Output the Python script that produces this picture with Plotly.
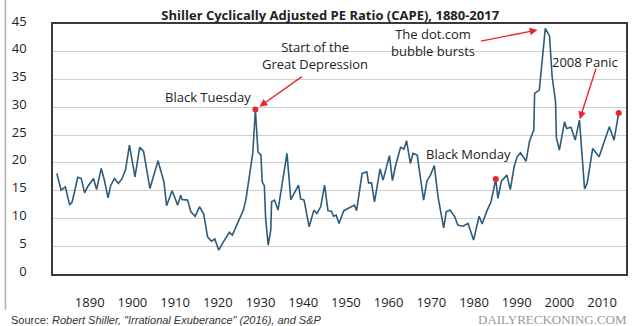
import plotly.graph_objects as go

# Shiller CAPE, traced year positions and ratio values
years = [1882.3, 1883.3, 1884.3, 1885.3, 1885.9, 1887.2, 1888.0, 1888.8, 1889.5, 1890.9,
         1891.6, 1892.7, 1893.4, 1894.3, 1894.9, 1895.8, 1896.7, 1897.6, 1898.4, 1899.3,
         1900.6, 1901.7, 1902.6, 1904.1, 1906.0, 1907.0, 1907.4, 1908.0, 1909.3, 1910.6,
         1911.3, 1911.6, 1912.9, 1913.7, 1914.7, 1915.7, 1916.7, 1917.6, 1918.5, 1919.3,
         1920.2, 1921.5, 1922.7, 1923.4, 1924.7, 1926.0, 1926.6, 1927.5, 1928.2, 1928.8,
         1929.4, 1930.1, 1930.4, 1930.9, 1931.2, 1931.8, 1932.4, 1932.6, 1933.3, 1934.1,
         1936.2, 1937.1, 1938.0, 1938.9, 1939.4, 1940.2, 1941.4, 1942.5, 1943.2, 1944.1,
         1945.0, 1945.8, 1946.6, 1947.1, 1947.7, 1948.4, 1949.5, 1950.9, 1952.0, 1952.5,
         1953.8, 1954.9, 1955.3, 1956.0, 1956.7, 1958.0, 1958.7, 1960.2, 1960.9, 1961.6,
         1962.8, 1963.6, 1964.2, 1965.1, 1965.7, 1966.7, 1968.2, 1969.0, 1969.8, 1970.7,
         1971.6, 1972.9, 1973.5, 1974.4, 1975.5, 1976.2, 1977.4, 1978.6, 1979.9, 1981.2,
         1981.9, 1983.1, 1984.0, 1985.1, 1985.6, 1986.4, 1987.7, 1988.5, 1989.4, 1990.1,
         1990.9, 1992.2, 1993.0, 1994.0, 1994.2, 1995.3, 1996.7, 1997.7, 1998.3, 1999.1,
         1999.3, 2000.0, 2001.2, 2001.7, 2002.7, 2003.7, 2004.7, 2005.9, 2006.5, 2007.8,
         2009.3, 2011.7, 2012.8, 2013.9]
cape = [18.1, 15.1, 15.7, 12.4, 13.0, 17.4, 17.2, 14.6, 15.7, 17.2,
        15.2, 19.0, 17.0, 13.7, 15.9, 17.2, 16.3, 17.2, 18.8, 23.2,
        17.5, 22.8, 22.1, 15.4, 20.4, 17.3, 16.5, 12.3, 15.0, 12.4,
        14.2, 13.4, 13.3, 11.2, 10.4, 12.1, 10.8, 6.7, 5.9, 6.3,
        4.3, 6.0, 7.5, 7.0, 9.2, 11.5, 13.5, 18.5, 21.8, 29.6,
        22.0, 21.4, 16.6, 15.9, 10.0, 5.2, 7.9, 13.0, 13.3, 11.5,
        21.7, 13.4, 14.6, 16.0, 13.5, 13.3, 8.5, 11.5, 10.9, 12.1,
        16.0, 11.4, 11.3, 10.4, 10.6, 9.1, 11.4, 12.0, 12.4, 11.4,
        18.1, 18.4, 16.4, 16.4, 13.0, 18.9, 16.9, 21.3, 16.8, 19.4,
        22.8, 22.5, 24.0, 19.9, 21.7, 21.4, 13.3, 16.8, 17.8, 19.5,
        13.8, 8.3, 11.2, 11.5, 10.3, 8.8, 8.6, 9.1, 6.1, 10.4,
        9.0, 11.5, 13.0, 17.1, 13.6, 16.7, 17.8, 15.2, 19.3, 21.1,
        21.8, 20.3, 23.9, 25.9, 32.5, 33.1, 44.2, 42.8, 35.5, 31.0,
        24.5, 22.3, 27.4, 26.2, 26.4, 24.1, 27.7, 15.3, 16.3, 22.6,
        21.1, 26.5, 24.1, 29.0]

x_ticks = [1890, 1900, 1910, 1920, 1930, 1940, 1950, 1960, 1970, 1980, 1990, 2000, 2010]
y_ticks = [0, 5, 10, 15, 20, 25, 30, 35, 40, 45]

# highlighted events: Black Tuesday peak, Black Monday, latest reading
i_tuesday = cape.index(max(cape[:60]))
i_monday = 113
i_last = len(cape) - 1
i_dotcom = cape.index(max(cape))
i_panic = 136

LINE = "#2d5b7b"
RED = "#e8262c"
TXT = "#222222"
FONT = "Open Sans"

fig = go.Figure()
fig.add_trace(go.Scatter(x=years, y=cape, mode="lines",
                         line=dict(color=LINE, width=1.6), hoverinfo="skip"))
dots = [i_tuesday, i_monday, i_last]
fig.add_trace(go.Scatter(x=[years[i] for i in dots], y=[cape[i] for i in dots],
                         mode="markers", marker=dict(color=RED, size=6),
                         hoverinfo="skip"))

ann = []
txt_font = dict(family=FONT, size=13, color=TXT)
ann.append(dict(x=1917.8, y=31.9, xref="x", yref="y", text="Black Tuesday",
                showarrow=False, font=txt_font))
ann.append(dict(x=1942.8, y=39.4, xref="x", yref="y",
                text="Start of the<br>Great Depression", showarrow=False,
                font=txt_font))
ann.append(dict(x=1970.5, y=41.6, xref="x", yref="y",
                text="The dot.com<br>bubble bursts", showarrow=False, font=txt_font))
ann.append(dict(x=2006.0, y=38.2, xref="x", yref="y", text="2008 Panic",
                showarrow=False, font=txt_font))
ann.append(dict(x=1978.6, y=21.6, xref="x", yref="y", text="Black Monday",
                showarrow=False, font=txt_font))

arrow = dict(showarrow=True, arrowhead=2, arrowsize=1.1, arrowwidth=1.4,
             arrowcolor=RED, text="", xref="x", yref="y")
ann.append(dict(x=years[i_tuesday], y=cape[i_tuesday], ax=48, ay=-34,
                standoff=5, **arrow))
ann.append(dict(x=years[i_dotcom], y=cape[i_dotcom], ax=-66, ay=13,
                standoff=8, **arrow))
ann.append(dict(x=years[i_panic], y=cape[i_panic], ax=17, ay=-53,
                standoff=1, **arrow))

ann.append(dict(x=-0.076, y=-0.182, xref="paper", yref="paper", xanchor="left",
                yanchor="middle", showarrow=False,
                text='Source: <i>Robert Shiller, "Irrational Exuberance" (2016), and S&P</i>',
                font=dict(family="Liberation Sans", size=11, color="#333333")))
ann.append(dict(x=1.005, y=-0.182, xref="paper", yref="paper", xanchor="right",
                yanchor="middle", showarrow=False, text="DAILYRECKONING.COM",
                font=dict(family="Liberation Serif", size=13, color="#9a9a9a")))

fig.update_layout(
    width=640, height=326,
    margin=dict(l=50, r=13, t=24, b=52),
    paper_bgcolor="white", plot_bgcolor="white",
    showlegend=False,
    title=dict(text="<b>Shiller Cyclically Adjusted PE Ratio (CAPE), 1880-2017</b>",
               x=0.516, xanchor="center", y=0.952, yanchor="middle",
               yref="container",
               font=dict(family=FONT, size=13, color=TXT)),
    annotations=ann,
    shapes=[dict(type="line", xref="paper", yref="paper",
                 x0=-0.083, x1=-0.083, y0=1.096, y1=-0.144,
                 line=dict(color="#b0b0b0", width=1.5))],
)
fig.update_xaxes(range=[1881.4, 2015.6], tickvals=x_ticks, ticks="",
                 showgrid=False, showline=True, mirror=True,
                 linecolor="#3a3a3a", linewidth=1.5, zeroline=False,
                 ticklabelstandoff=16,
                 tickfont=dict(family=FONT, size=13, color=TXT))
fig.update_yaxes(range=[0, 45], tickvals=y_ticks, ticks="",
                 showgrid=True, gridcolor="#cfcfcf", gridwidth=1,
                 showline=True, mirror=True, linecolor="#3a3a3a", linewidth=1.5,
                 zeroline=False, ticklabelstandoff=22, ticklabelshift=-3,
                 tickfont=dict(family=FONT, size=13, color=TXT))

fig.write_html("out.html")
